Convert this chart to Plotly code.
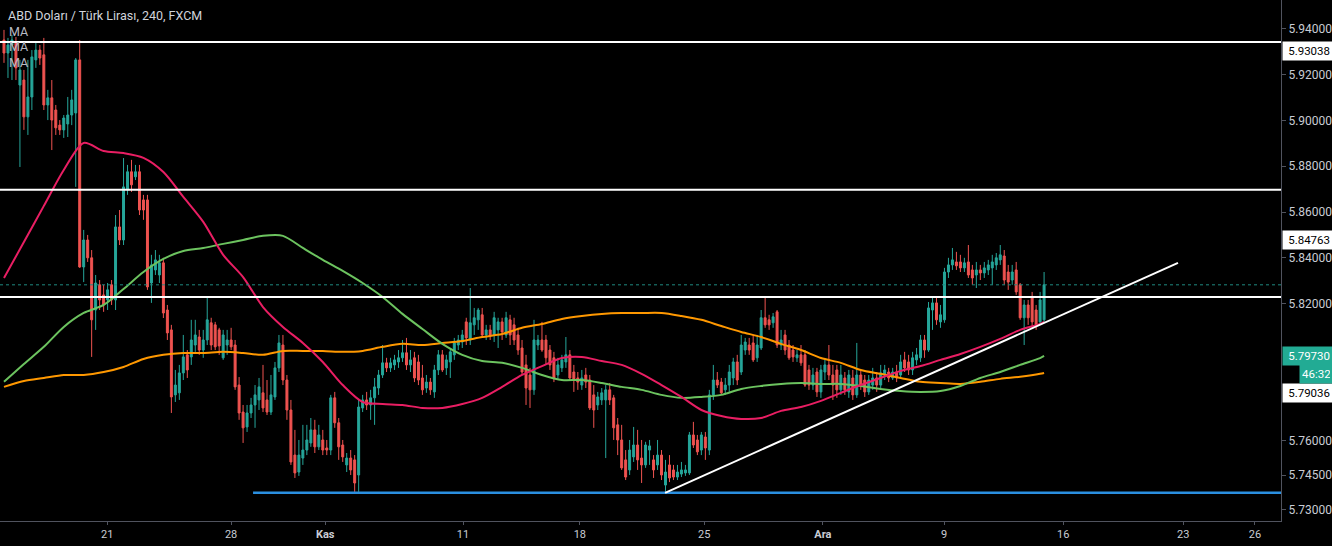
import plotly.graph_objects as go

title_text = "ABD Doları / Türk Lirası, 240, FXCM"

opens = [
 5.9352, 5.9295, 5.9330, 5.9343, 5.9155, 5.9177, 5.9016, 5.9103, 5.9265, 5.9308,
 5.9287, 5.9068, 5.9099, 5.9046, 5.8980, 5.8959, 5.8985, 5.9024, 5.9033, 5.9265,
 5.8360, 5.8478, 5.8400, 5.8172, 5.8282, 5.8238, 5.8216, 5.8282, 5.8216, 5.8535,
 5.8478, 5.8697, 5.8776, 5.8754, 5.8776, 5.8653, 5.8653, 5.8290, 5.8347, 5.8325,
 5.8378, 5.8172, 5.8085, 5.7801, 5.7810, 5.7897, 5.7976, 5.7967, 5.8019, 5.8054,
 5.7997, 5.8041, 5.8116, 5.8107, 5.8085, 5.7963, 5.8019, 5.8041, 5.8019, 5.7844,
 5.7726, 5.7661, 5.7722, 5.7757, 5.7779, 5.7810, 5.7779, 5.7726, 5.7792, 5.7919,
 5.8019, 5.7866, 5.7735, 5.7538, 5.7464, 5.7525, 5.7560, 5.7591, 5.7648, 5.7574,
 5.7604, 5.7569, 5.7560, 5.7788, 5.7679, 5.7582, 5.7495, 5.7525, 5.7517, 5.7451,
 5.7744, 5.7779, 5.7757, 5.7788, 5.7831, 5.7888, 5.7941, 5.7919, 5.7932, 5.7945,
 5.7963, 5.7985, 5.7932, 5.7963, 5.7945, 5.7875, 5.7831, 5.7857, 5.7814, 5.7910,
 5.7976, 5.7919, 5.7945, 5.7976, 5.8019, 5.8032, 5.8120, 5.8041, 5.8107, 5.8129,
 5.8151, 5.8063, 5.8085, 5.8063, 5.8085, 5.8120, 5.8063, 5.8129, 5.8107, 5.8063,
 5.8006, 5.7932, 5.7888, 5.7823, 5.8019, 5.8041, 5.8041, 5.7997, 5.7963, 5.7888,
 5.7919, 5.7945, 5.7976, 5.7901, 5.7875, 5.7844, 5.7888, 5.7866, 5.7801, 5.7757,
 5.7779, 5.7779, 5.7823, 5.7788, 5.7670, 5.7604, 5.7517, 5.7473, 5.7530, 5.7582,
 5.7525, 5.7495, 5.7560, 5.7517, 5.7495, 5.7538, 5.7407, 5.7495, 5.7473, 5.7442,
 5.7455, 5.7460, 5.7460, 5.7626, 5.7604, 5.7560, 5.7617, 5.7560, 5.7801, 5.7866,
 5.7857, 5.7823, 5.7844, 5.7875, 5.7945, 5.7901, 5.7997, 5.8019, 5.8028, 5.7963,
 5.8006, 5.8138, 5.8129, 5.8116, 5.8164, 5.8019, 5.8063, 5.8019, 5.7997, 5.7963,
 5.7976, 5.7976, 5.7910, 5.7844, 5.7901, 5.7814, 5.7901, 5.7932, 5.7888, 5.7910,
 5.7823, 5.7875, 5.7814, 5.7875, 5.7801, 5.7888, 5.7866, 5.7814, 5.7844, 5.7875,
 5.7844, 5.7888, 5.7901, 5.7875, 5.7901, 5.7888, 5.7954, 5.7945, 5.7910, 5.7954,
 5.7963, 5.8041, 5.7997, 5.8172, 5.8203, 5.8120, 5.8129, 5.8338, 5.8369, 5.8382,
 5.8382, 5.8356, 5.8382, 5.8347, 5.8325, 5.8347, 5.8334, 5.8347, 5.8356, 5.8369,
 5.8391, 5.8408, 5.8338, 5.8303, 5.8347, 5.8282, 5.8138, 5.8194, 5.8225, 5.8172,
 5.8120, 5.8129,
]

highs = [
 5.9396, 5.9361, 5.9374, 5.9365, 5.9265, 5.9221, 5.9265, 5.9308, 5.9339, 5.9330,
 5.9361, 5.9134, 5.9177, 5.9068, 5.9002, 5.9024, 5.9103, 5.9134, 5.9273, 5.9352,
 5.8522, 5.8500, 5.8434, 5.8325, 5.8303, 5.8282, 5.8290, 5.8303, 5.8587, 5.8609,
 5.8836, 5.8806, 5.8828, 5.8806, 5.8806, 5.8675, 5.8675, 5.8413, 5.8434, 5.8413,
 5.8400, 5.8194, 5.8107, 5.7910, 5.7932, 5.8063, 5.7997, 5.8129, 5.8129, 5.8085,
 5.8085, 5.8225, 5.8138, 5.8120, 5.8094, 5.8085, 5.8085, 5.8094, 5.8041, 5.7879,
 5.7757, 5.7757, 5.7788, 5.7844, 5.7875, 5.7932, 5.7866, 5.7888, 5.7945, 5.8063,
 5.8063, 5.7888, 5.7779, 5.7648, 5.7604, 5.7670, 5.7670, 5.7700, 5.7692, 5.7670,
 5.7648, 5.7604, 5.7801, 5.7814, 5.7700, 5.7604, 5.7547, 5.7560, 5.7538, 5.7779,
 5.7801, 5.7814, 5.7823, 5.7875, 5.7910, 5.8019, 5.7963, 5.7963, 5.7976, 5.7997,
 5.8041, 5.8050, 5.7997, 5.7989, 5.7976, 5.7932, 5.7888, 5.7875, 5.7932, 5.7997,
 5.7997, 5.7976, 5.8006, 5.8050, 5.8063, 5.8085, 5.8138, 5.8268, 5.8181, 5.8181,
 5.8181, 5.8107, 5.8107, 5.8164, 5.8138, 5.8138, 5.8164, 5.8151, 5.8138, 5.8094,
 5.8041, 5.7976, 5.7919, 5.8129, 5.8063, 5.8120, 5.8063, 5.8019, 5.7989, 5.7963,
 5.7976, 5.8054, 5.7997, 5.7932, 5.7901, 5.7910, 5.7919, 5.7888, 5.7844, 5.7814,
 5.7831, 5.7844, 5.7853, 5.7801, 5.7700, 5.7670, 5.7560, 5.7604, 5.7661, 5.7648,
 5.7604, 5.7596, 5.7604, 5.7538, 5.7604, 5.7560, 5.7517, 5.7538, 5.7495, 5.7495,
 5.7508, 5.7495, 5.7639, 5.7683, 5.7626, 5.7639, 5.7639, 5.7823, 5.7932, 5.7901,
 5.7875, 5.7875, 5.7932, 5.7963, 5.7976, 5.8063, 5.8050, 5.8050, 5.8063, 5.8063,
 5.8172, 5.8229, 5.8151, 5.8159, 5.8172, 5.8085, 5.8085, 5.8041, 5.8019, 5.7997,
 5.8019, 5.7997, 5.7932, 5.7919, 5.7919, 5.7932, 5.7954, 5.8019, 5.7932, 5.7932,
 5.7932, 5.7901, 5.7910, 5.7910, 5.8028, 5.7910, 5.7888, 5.7888, 5.7919, 5.7901,
 5.7932, 5.7932, 5.7919, 5.7919, 5.7932, 5.7976, 5.7989, 5.7976, 5.7989, 5.8006,
 5.8063, 5.8063, 5.8207, 5.8225, 5.8225, 5.8194, 5.8356, 5.8400, 5.8443, 5.8426,
 5.8413, 5.8400, 5.8456, 5.8369, 5.8382, 5.8369, 5.8382, 5.8391, 5.8413, 5.8421,
 5.8456, 5.8434, 5.8369, 5.8369, 5.8382, 5.8290, 5.8216, 5.8216, 5.8251, 5.8194,
 5.8251, 5.8338,
]

lows = [
 5.9252, 5.9186, 5.9177, 5.9177, 5.8797, 5.8959, 5.8937, 5.9046, 5.9230, 5.9243,
 5.9046, 5.9002, 5.8871, 5.8937, 5.8937, 5.8924, 5.8928, 5.8980, 5.8710, 5.8356,
 5.8294, 5.8382, 5.7967, 5.8085, 5.8172, 5.8164, 5.8172, 5.8194, 5.8172, 5.8456,
 5.8456, 5.8675, 5.8688, 5.8740, 5.8587, 5.8566, 5.8260, 5.8203, 5.8325, 5.8290,
 5.8137, 5.8041, 5.7722, 5.7770, 5.7779, 5.7866, 5.7875, 5.7932, 5.7989, 5.7976,
 5.7963, 5.8019, 5.7997, 5.7997, 5.7976, 5.7954, 5.7976, 5.7997, 5.7823, 5.7692,
 5.7591, 5.7639, 5.7700, 5.7657, 5.7735, 5.7726, 5.7713, 5.7713, 5.7779, 5.7901,
 5.7844, 5.7692, 5.7495, 5.7438, 5.7447, 5.7495, 5.7538, 5.7574, 5.7547, 5.7560,
 5.7538, 5.7538, 5.7538, 5.7657, 5.7517, 5.7508, 5.7464, 5.7451, 5.7377, 5.7377,
 5.7726, 5.7735, 5.7692, 5.7670, 5.7801, 5.7875, 5.7901, 5.7901, 5.7910, 5.7919,
 5.7945, 5.7910, 5.7901, 5.7857, 5.7844, 5.7801, 5.7810, 5.7801, 5.7788, 5.7888,
 5.7901, 5.7888, 5.7875, 5.7954, 5.7997, 5.8006, 5.8019, 5.8019, 5.8063, 5.8085,
 5.8050, 5.8041, 5.8041, 5.8032, 5.8006, 5.8041, 5.8050, 5.8019, 5.8019, 5.7976,
 5.7888, 5.7757, 5.7744, 5.7801, 5.7997, 5.7989, 5.7932, 5.7910, 5.7857, 5.7866,
 5.7901, 5.7919, 5.7866, 5.7814, 5.7823, 5.7823, 5.7831, 5.7735, 5.7657, 5.7735,
 5.7757, 5.7525, 5.7757, 5.7604, 5.7538, 5.7473, 5.7429, 5.7451, 5.7508, 5.7473,
 5.7416, 5.7482, 5.7495, 5.7438, 5.7473, 5.7429, 5.7377, 5.7420, 5.7429, 5.7429,
 5.7442, 5.7447, 5.7451, 5.7569, 5.7538, 5.7538, 5.7517, 5.7538, 5.7779, 5.7831,
 5.7801, 5.7801, 5.7814, 5.7844, 5.7844, 5.7888, 5.7976, 5.7976, 5.7945, 5.7945,
 5.7997, 5.8094, 5.8085, 5.8094, 5.8006, 5.7997, 5.7976, 5.7954, 5.7945, 5.7945,
 5.7928, 5.7836, 5.7823, 5.7823, 5.7792, 5.7788, 5.7866, 5.7866, 5.7779, 5.7788,
 5.7801, 5.7801, 5.7788, 5.7779, 5.7788, 5.7823, 5.7792, 5.7801, 5.7823, 5.7814,
 5.7831, 5.7866, 5.7857, 5.7866, 5.7857, 5.7875, 5.7901, 5.7888, 5.7888, 5.7932,
 5.7945, 5.7963, 5.7989, 5.8085, 5.8107, 5.8094, 5.8116, 5.8312, 5.8347, 5.8347,
 5.8338, 5.8338, 5.8312, 5.8282, 5.8268, 5.8303, 5.8312, 5.8325, 5.8282, 5.8347,
 5.8369, 5.8282, 5.8260, 5.8282, 5.8238, 5.8129, 5.8019, 5.8107, 5.8094, 5.8085,
 5.8107, 5.8120,
]

closes = [
 5.9295, 5.9330, 5.9352, 5.9230, 5.9221, 5.9016, 5.9103, 5.9278, 5.9308, 5.9273,
 5.9068, 5.9099, 5.9002, 5.8968, 5.8959, 5.9011, 5.9024, 5.9090, 5.9265, 5.8360,
 5.8478, 5.8400, 5.8129, 5.8290, 5.8216, 5.8194, 5.8260, 5.8216, 5.8535, 5.8478,
 5.8710, 5.8776, 5.8719, 5.8776, 5.8609, 5.8609, 5.8273, 5.8369, 5.8391, 5.8378,
 5.8159, 5.8072, 5.7792, 5.7844, 5.7897, 5.7967, 5.7910, 5.8041, 5.8063, 5.7997,
 5.8041, 5.8129, 5.8019, 5.8011, 5.8015, 5.8063, 5.8041, 5.8011, 5.7836, 5.7722,
 5.7657, 5.7722, 5.7757, 5.7801, 5.7836, 5.7744, 5.7726, 5.7801, 5.7919, 5.8028,
 5.7866, 5.7735, 5.7508, 5.7460, 5.7538, 5.7560, 5.7604, 5.7648, 5.7574, 5.7626,
 5.7560, 5.7560, 5.7788, 5.7679, 5.7574, 5.7530, 5.7525, 5.7473, 5.7416, 5.7748,
 5.7779, 5.7757, 5.7788, 5.7836, 5.7888, 5.7941, 5.7919, 5.7941, 5.7954, 5.7963,
 5.7985, 5.7932, 5.7954, 5.7875, 5.7866, 5.7823, 5.7857, 5.7823, 5.7910, 5.7976,
 5.7910, 5.7954, 5.7989, 5.8028, 5.8041, 5.8063, 5.8050, 5.8116, 5.8138, 5.8172,
 5.8063, 5.8085, 5.8063, 5.8138, 5.8120, 5.8076, 5.8138, 5.8063, 5.8041, 5.7997,
 5.7901, 5.7831, 5.7823, 5.8041, 5.8041, 5.7997, 5.7963, 5.7932, 5.7875, 5.7932,
 5.7954, 5.7976, 5.7875, 5.7866, 5.7857, 5.7875, 5.7857, 5.7744, 5.7735, 5.7792,
 5.7810, 5.7823, 5.7779, 5.7657, 5.7604, 5.7482, 5.7442, 5.7560, 5.7582, 5.7517,
 5.7495, 5.7582, 5.7578, 5.7473, 5.7538, 5.7451, 5.7464, 5.7438, 5.7442, 5.7464,
 5.7473, 5.7473, 5.7626, 5.7582, 5.7552, 5.7626, 5.7569, 5.7801, 5.7866, 5.7844,
 5.7810, 5.7844, 5.7901, 5.7945, 5.7866, 5.8019, 5.8032, 5.7997, 5.7954, 5.8019,
 5.8138, 5.8107, 5.8107, 5.8142, 5.8019, 5.8041, 5.7997, 5.7963, 5.7967, 5.7976,
 5.7941, 5.7844, 5.7844, 5.7888, 5.7814, 5.7910, 5.7932, 5.7888, 5.7844, 5.7823,
 5.7888, 5.7823, 5.7888, 5.7801, 5.7888, 5.7844, 5.7814, 5.7866, 5.7875, 5.7844,
 5.7897, 5.7910, 5.7875, 5.7901, 5.7875, 5.7945, 5.7919, 5.7910, 5.7963, 5.7976,
 5.8041, 5.7997, 5.8181, 5.8203, 5.8129, 5.8151, 5.8338, 5.8369, 5.8391, 5.8365,
 5.8356, 5.8378, 5.8325, 5.8312, 5.8347, 5.8334, 5.8356, 5.8369, 5.8382, 5.8400,
 5.8413, 5.8303, 5.8294, 5.8338, 5.8251, 5.8138, 5.8194, 5.8138, 5.8120, 5.8107,
 5.8216, 5.8282,
]

# moving averages, read every 5 bars
ma_idx = list(range(0, 261, 5)) + [261]
ma_red = [
 5.8312, 5.8469, 5.8627, 5.8784, 5.8902, 5.8867, 5.8858, 5.8837, 5.8775, 5.8666,
 5.8557, 5.8413, 5.8316, 5.8185, 5.8098, 5.8028, 5.7945, 5.7844, 5.7770, 5.7761,
 5.7757, 5.7744, 5.7744, 5.7761, 5.7788, 5.7836, 5.7888, 5.7927, 5.7962, 5.7967,
 5.7949, 5.7932, 5.7893, 5.7844, 5.7792, 5.7735, 5.7709, 5.7696, 5.7700, 5.7731,
 5.7748, 5.7775, 5.7810, 5.7844, 5.7875, 5.7906, 5.7927, 5.7954, 5.7980, 5.8011,
 5.8046, 5.8085, 5.8111, 5.8120,
]
ma_green = [
 5.7858, 5.7936, 5.8011, 5.8098, 5.8159, 5.8194, 5.8264, 5.8338, 5.8395, 5.8430,
 5.8443, 5.8461, 5.8478, 5.8496, 5.8496, 5.8443, 5.8391, 5.8343, 5.8290, 5.8229,
 5.8155, 5.8089, 5.8024, 5.7976, 5.7949, 5.7941, 5.7919, 5.7888, 5.7866, 5.7866,
 5.7853, 5.7836, 5.7823, 5.7801, 5.7788, 5.7792, 5.7801, 5.7827, 5.7840, 5.7849,
 5.7853, 5.7849, 5.7849, 5.7840, 5.7827, 5.7818, 5.7814, 5.7818, 5.7840, 5.7875,
 5.7901, 5.7932, 5.7962, 5.7971,
]
ma_orange = [
 5.7836, 5.7862, 5.7875, 5.7888, 5.7888, 5.7901, 5.7923, 5.7958, 5.7976, 5.7984,
 5.7984, 5.7989, 5.7984, 5.7976, 5.7993, 5.7993, 5.7993, 5.7989, 5.7993, 5.8011,
 5.8024, 5.8019, 5.8028, 5.8037, 5.8054, 5.8067, 5.8094, 5.8111, 5.8133, 5.8146,
 5.8155, 5.8159, 5.8159, 5.8159, 5.8146, 5.8129, 5.8102, 5.8076, 5.8054, 5.8024,
 5.7997, 5.7962, 5.7941, 5.7910, 5.7893, 5.7875, 5.7858, 5.7853, 5.7849, 5.7858,
 5.7871, 5.7880, 5.7893, 5.7897,
]

# drawn levels
white_levels = [5.9343, 5.8697, 5.8229]
support_level = 5.7373
support_start = 62.5
last_price_line = 5.8282
trend_x = [165.9, 294.6]
trend_y = [5.7373, 5.8378]

# axis ticks
date_pos = [25.9, 57.0, 80.6, 115.2, 144.5, 175.7, 205.5, 235.9, 265.8, 295.9, 313.9]
date_text = ["21", "28", "<b>Kas</b>", "11", "18", "25", "<b>Ara</b>", "9", "16", "23", "26"]
price_ticks = [5.94, 5.92, 5.90, 5.88, 5.86, 5.84, 5.82, 5.76, 5.745, 5.73]

# price labels on the scale
white_labels = [(5.93038, "5.93038"), (5.84763, "5.84763"), (5.7810, "5.79036")]
teal_label = (5.7973, "5.79730")
countdown = (5.7893, "46:32")

UP = "#26a69a"
DOWN = "#ef5350"
BG = "#000000"
AXIS = "#50535e"
TXT = "#c9ccd4"
FONT = "Roboto"

x_range = [-1.0, 320.45]
y_range = [5.72499, 5.95267]

fig = go.Figure()

idx = list(range(len(closes)))
fig.add_trace(go.Candlestick(
    x=idx, open=opens, high=highs, low=lows, close=closes,
    increasing=dict(line=dict(color=UP, width=1), fillcolor=UP),
    decreasing=dict(line=dict(color=DOWN, width=1), fillcolor=DOWN),
    whiskerwidth=0, showlegend=False, hoverinfo="skip",
))

for vals, col in [(ma_orange, "#ff9800"), (ma_green, "#6cc35f"), (ma_red, "#e91e63")]:
    fig.add_trace(go.Scatter(
        x=ma_idx, y=vals, mode="lines",
        line=dict(color=col, width=2, shape="spline", smoothing=0.8),
        showlegend=False, hoverinfo="skip",
    ))

shapes = []
shapes.append(dict(type="line", xref="paper", yref="y", x0=0, x1=1,
                   y0=last_price_line, y1=last_price_line,
                   line=dict(color="#1f8a80", width=1, dash="dot")))
for lv in white_levels:
    shapes.append(dict(type="line", xref="paper", yref="y", x0=0, x1=1,
                       y0=lv, y1=lv, line=dict(color="#ffffff", width=2)))
shapes.append(dict(type="line", xref="x", yref="y", x0=support_start, x1=x_range[1],
                   y0=support_level, y1=support_level,
                   line=dict(color="#2a8fe0", width=2.5)))
shapes.append(dict(type="line", xref="x", yref="y", x0=trend_x[0], x1=trend_x[1],
                   y0=trend_y[0], y1=trend_y[1], line=dict(color="#ffffff", width=2)))

annotations = []
annotations.append(dict(xref="paper", yref="paper", x=0, y=1, xanchor="left",
                        yanchor="middle", xshift=6, yshift=-15, showarrow=False,
                        text=title_text, font=dict(family=FONT, size=12.5, color="#d1d4dc")))
for k, sh in enumerate([-31, -46, -62]):
    annotations.append(dict(xref="paper", yref="paper", x=0, y=1, xanchor="left",
                            yanchor="middle", xshift=7, yshift=sh, showarrow=False,
                            text="MA", font=dict(family=FONT, size=12.5, color="#b8bbc4")))
for val, txt in white_labels:
    annotations.append(dict(xref="paper", yref="y", x=1, y=val, xanchor="left",
                            yanchor="middle", xshift=1, showarrow=False, text=txt,
                            width=45, align="right", bgcolor="#ffffff", borderpad=2,
                            font=dict(family=FONT, size=11.5, color="#000000")))
annotations.append(dict(xref="paper", yref="y", x=1, y=teal_label[0], xanchor="left",
                        yanchor="middle", xshift=1, showarrow=False, text=teal_label[1],
                        width=45, align="right", bgcolor="#22ab94", borderpad=2,
                        font=dict(family=FONT, size=11.5, color="#ffffff")))
annotations.append(dict(xref="paper", yref="y", x=1, y=countdown[0], xanchor="left",
                        yanchor="middle", xshift=18, showarrow=False, text=countdown[1],
                        width=28, align="left", bgcolor="#22ab94", borderpad=2,
                        font=dict(family=FONT, size=11.5, color="#ffffff")))

fig.update_layout(
    width=1332, height=546,
    margin=dict(l=0, r=51, t=0, b=25),
    paper_bgcolor=BG, plot_bgcolor=BG,
    shapes=shapes, annotations=annotations,
    showlegend=False,
    xaxis=dict(range=x_range, rangeslider=dict(visible=False), showgrid=False,
               zeroline=False, showline=True, linecolor=AXIS, linewidth=1,
               tickmode="array", tickvals=date_pos, ticktext=date_text,
               ticks="outside", ticklen=3, tickcolor=AXIS,
               tickfont=dict(family=FONT, size=11, color=TXT), fixedrange=True),
    yaxis=dict(range=y_range, side="right", showgrid=False, zeroline=False,
               showline=True, linecolor=AXIS, linewidth=1,
               tickmode="array", tickvals=price_ticks,
               ticktext=["%.5f" % v for v in price_ticks],
               ticks="outside", ticklen=4, tickcolor=AXIS,
               tickfont=dict(family=FONT, size=12, color=TXT), fixedrange=True),
)

fig.write_html("out.html")
